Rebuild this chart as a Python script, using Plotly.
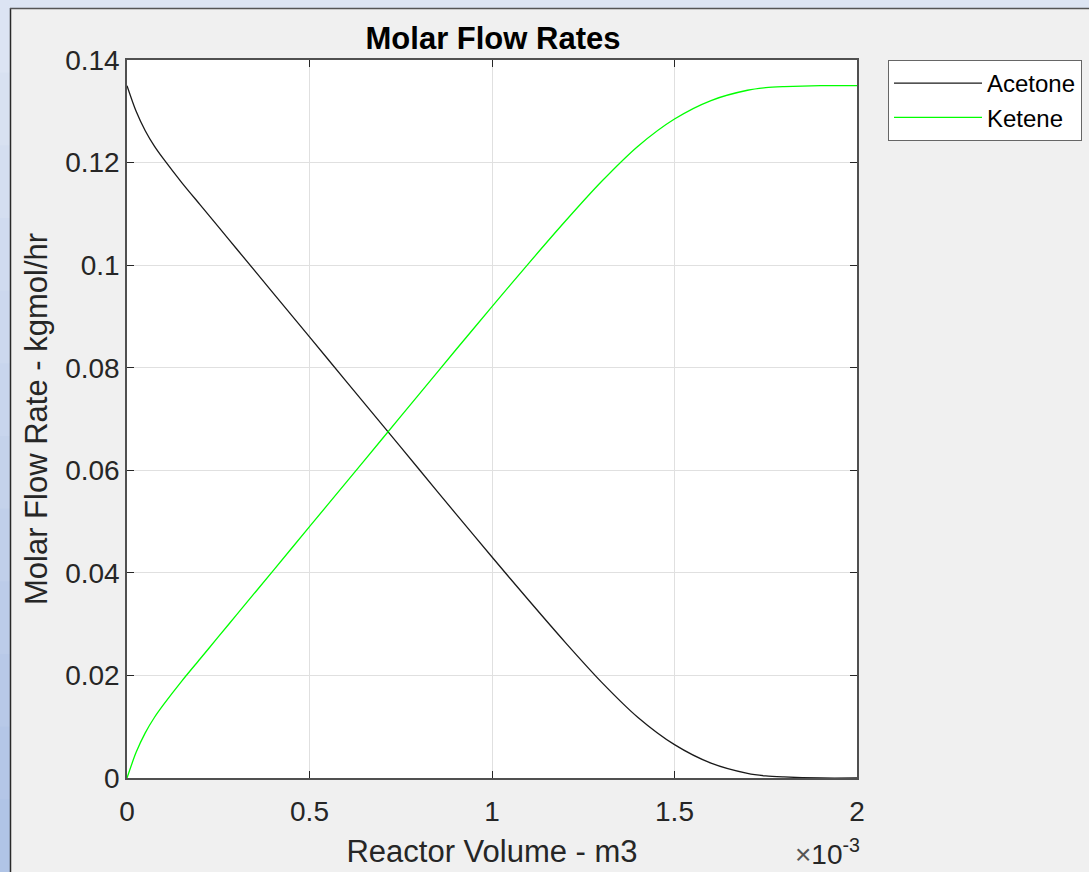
import plotly.graph_objects as go

# Reactor volume (m3, in units of 1e-3 shown on axis)
volume_e3 = [0, 0.025, 0.05, 0.075, 0.1, 0.15, 0.2, 0.25, 0.3, 0.4, 0.5, 0.6, 0.7, 0.8,
             0.9, 1.0, 1.1, 1.2, 1.3, 1.4, 1.5, 1.6, 1.7, 1.75, 1.8, 1.9, 2.0]
acetone = [0.1350, 0.1300, 0.1262, 0.1232, 0.1207, 0.1161, 0.1118, 0.1075, 0.1032,
           0.0946, 0.0860, 0.0774, 0.0688, 0.0602, 0.0516, 0.0431, 0.0347, 0.0265,
           0.0187, 0.0118, 0.0065, 0.0029, 0.0009, 0.0004, 0.0002, 0.0, 0.0]
ketene = [0.0, 0.0050, 0.0088, 0.0118, 0.0143, 0.0189, 0.0232, 0.0275, 0.0318,
          0.0404, 0.0490, 0.0576, 0.0662, 0.0748, 0.0834, 0.0919, 0.1003, 0.1085,
          0.1163, 0.1232, 0.1285, 0.1321, 0.1341, 0.1346, 0.1348, 0.1350, 0.1350]

x_ticks = [0, 0.5, 1, 1.5, 2]
x_tick_labels = ["0", "0.5", "1", "1.5", "2"]
y_ticks = [0, 0.02, 0.04, 0.06, 0.08, 0.1, 0.12, 0.14]
y_tick_labels = ["0", "0.02", "0.04", "0.06", "0.08", "0.1", "0.12", "0.14"]

W, H = 1089, 872
L, R, T, B = 127, 857, 60, 778
pw, ph = R - L, B - T

def px(x):
    return (x - L) / pw

def py(y):
    return (B - y) / ph

FONT = "Liberation Sans, Arial, sans-serif"

fig = go.Figure()
fig.add_trace(go.Scatter(x=volume_e3, y=acetone, name="Acetone", mode="lines",
                         line=dict(color="#1a1a1a", width=1.3, shape="spline", smoothing=0.8)))
fig.add_trace(go.Scatter(x=volume_e3, y=ketene, name="Ketene", mode="lines",
                         line=dict(color="#00ff00", width=1.3, shape="spline", smoothing=0.8)))

shapes = []
# window frame: blue gradient strips (left and top)
n = 12
for i in range(n):
    t = i / (n - 1)
    r = int(0xdc + (0xb0 - 0xdc) * t)
    g = int(0xe4 + (0xc4 - 0xe4) * t)
    b = int(0xf3 + (0xe6 - 0xf3) * t)
    y0 = H * i / n
    y1 = H * (i + 1) / n + 1
    shapes.append(dict(type="rect", xref="paper", yref="paper", x0=px(-2), x1=px(10),
                       y0=py(y1), y1=py(y0), fillcolor=f"rgb({r},{g},{b})",
                       line=dict(width=0), layer="above"))
shapes.append(dict(type="rect", xref="paper", yref="paper", x0=px(10), x1=px(W + 5),
                   y0=py(8), y1=py(-2), fillcolor="#dde5f3", line=dict(width=0), layer="above"))
shapes.append(dict(type="line", xref="paper", yref="paper", x0=px(10.5), x1=px(10.5),
                   y0=py(8), y1=py(H + 5), line=dict(color="#2a2a2a", width=1.5), layer="above"))
shapes.append(dict(type="line", xref="paper", yref="paper", x0=px(10), x1=px(W + 5),
                   y0=py(8.5), y1=py(8.5), line=dict(color="#555555", width=1.5), layer="above"))

fig.update_layout(
    width=W, height=H,
    margin=dict(l=L, r=W - R, t=T, b=H - B, pad=0, autoexpand=False),
    paper_bgcolor="#f0f0f0", plot_bgcolor="white",
    font=dict(family=FONT, color="#262626"),
    title=dict(text="<b>Molar Flow Rates</b>", xref="container", x=493 / W, xanchor="center",
               y=1 - 38 / H, yanchor="middle", font=dict(size=31, color="#000000")),
    showlegend=True,
    legend=dict(x=px(888), xanchor="left", y=1, yanchor="top",
                bgcolor="white", bordercolor="#666666", borderwidth=1,
                font=dict(size=24, color="#000000"), itemwidth=88,
                tracegroupgap=0),
    shapes=shapes,
)
fig.update_xaxes(range=[0, 2], tickvals=x_ticks, ticktext=x_tick_labels,
                 showgrid=True, gridcolor="#e0e0e0", gridwidth=1,
                 ticks="inside", ticklen=7, tickcolor="#262626",
                 showline=True, linecolor="#505050", linewidth=1.5, mirror="ticks",
                 tickfont=dict(size=28, color="#262626"), zeroline=False,
                 ticklabelstandoff=8,
                 title=dict(text="Reactor Volume - m3", font=dict(size=31, color="#262626"),
                            standoff=14))
fig.update_yaxes(range=[0, 0.14], tickvals=y_ticks, ticktext=y_tick_labels,
                 showgrid=True, gridcolor="#e0e0e0", gridwidth=1,
                 ticks="inside", ticklen=7, tickcolor="#262626",
                 showline=True, linecolor="#505050", linewidth=1.5, mirror="ticks",
                 tickfont=dict(size=28, color="#262626"), zeroline=False,
                 title=dict(text="Molar Flow Rate - kgmol/hr", font=dict(size=31, color="#262626"),
                            standoff=8))

fig.add_annotation(xref="paper", yref="paper", x=px(862), y=py(872), xanchor="right",
                   yanchor="bottom", showarrow=False,
                   text="<span style='color:#555555'>×</span>10<sup>-3</sup>",
                   font=dict(size=28, color="#262626"))

fig.write_html("out.html", config={"displayModeBar": False},
               post_script="document.body.style.margin='0';document.body.style.overflow='hidden';")
